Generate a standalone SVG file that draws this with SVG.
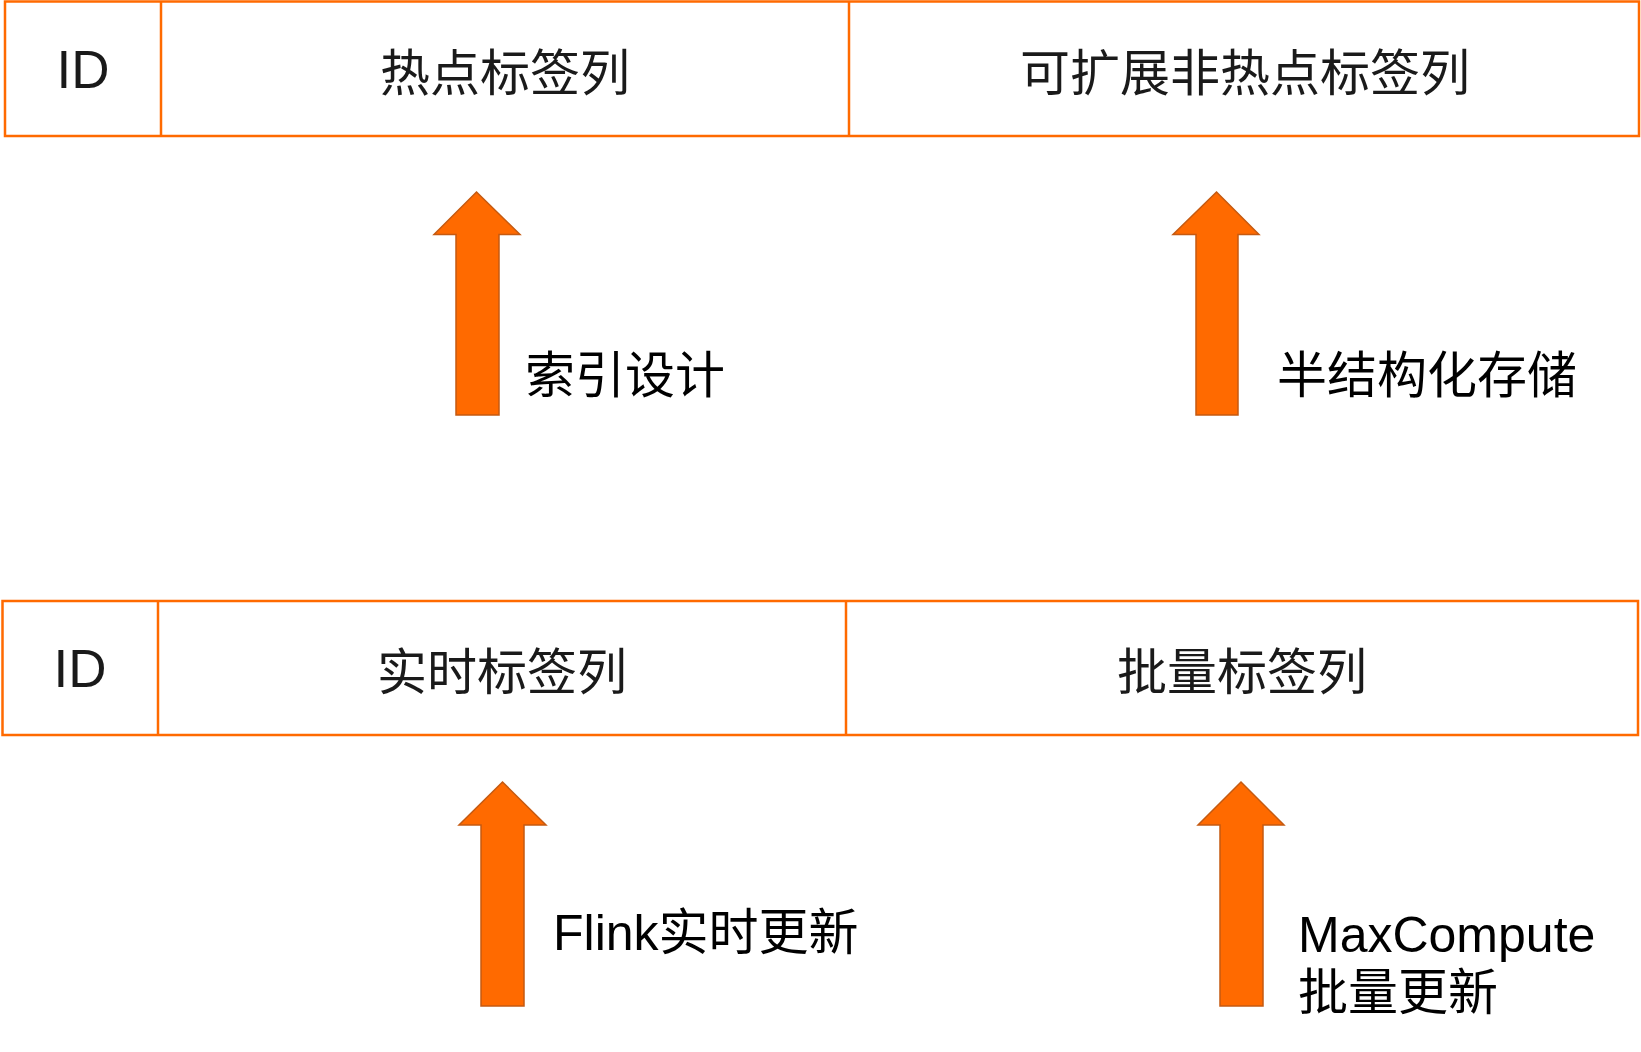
<svg xmlns="http://www.w3.org/2000/svg" width="1641" height="1052" viewBox="0 0 1641 1052">
<style>
.cell{fill:#ffffff;stroke:#ff6a00;stroke-width:2.5}
.hdr{font-family:"Noto Sans CJK SC","Noto Sans",sans-serif;font-size:50px;fill:#1a1a1a;text-anchor:middle;dominant-baseline:central}
.id{font-family:"Liberation Sans","Noto Sans",sans-serif;font-size:53px;fill:#1a1a1a;text-anchor:middle;dominant-baseline:central}
.arrow{fill:#ff6a00;stroke:#c55a11;stroke-width:1.5}
.lbl{font-family:"Liberation Sans","Noto Sans CJK SC",sans-serif;font-size:50px;fill:#000000}
</style>
<rect width="1641" height="1052" fill="#ffffff"/>
<g id="top-table">
  <rect class="cell" x="5" y="1.5" width="1634" height="134.5"/>
  <line x1="161" y1="1.5" x2="161" y2="136" stroke="#ff6a00" stroke-width="2.5"/>
  <line x1="849" y1="1.5" x2="849" y2="136" stroke="#ff6a00" stroke-width="2.5"/>
  <text class="id" x="83" y="69">ID</text>
  <text class="hdr" x="505" y="69">热点标签列</text>
  <text class="hdr" x="1245" y="69">可扩展非热点标签列</text>
</g>
<g id="bottom-table">
  <rect class="cell" x="2.5" y="601" width="1635.5" height="134"/>
  <line x1="158" y1="601" x2="158" y2="735" stroke="#ff6a00" stroke-width="2.5"/>
  <line x1="846" y1="601" x2="846" y2="735" stroke="#ff6a00" stroke-width="2.5"/>
  <text class="id" x="80" y="668">ID</text>
  <text class="hdr" x="502" y="668">实时标签列</text>
  <text class="hdr" x="1242" y="668">批量标签列</text>
</g>
<g id="connectors">
  <polygon class="arrow" points="476.5,192 520,234.5 499,234.5 499,415 456,415 456,234.5 434,234.5"/>
  <polygon class="arrow" points="1216.5,192 1259,234.5 1238,234.5 1238,415 1196,415 1196,234.5 1173,234.5"/>
  <polygon class="arrow" points="502.5,782 546,825 524,825 524,1006 481,1006 481,825 459,825"/>
  <polygon class="arrow" points="1241,782 1284,825 1263,825 1263,1006 1220,1006 1220,825 1198,825"/>
</g>
<g id="label-index">
  <text class="lbl" x="525" y="393">索引设计</text>
</g>
<g id="label-semi">
  <text class="lbl" x="1277" y="393">半结构化存储</text>
</g>
<g id="label-flink">
  <text class="lbl" x="553" y="950">Flink实时更新</text>
</g>
<g id="label-maxcompute">
  <text class="lbl" x="1298" y="952">MaxCompute</text>
  <text class="lbl" x="1298" y="1010">批量更新</text>
</g>
</svg>
